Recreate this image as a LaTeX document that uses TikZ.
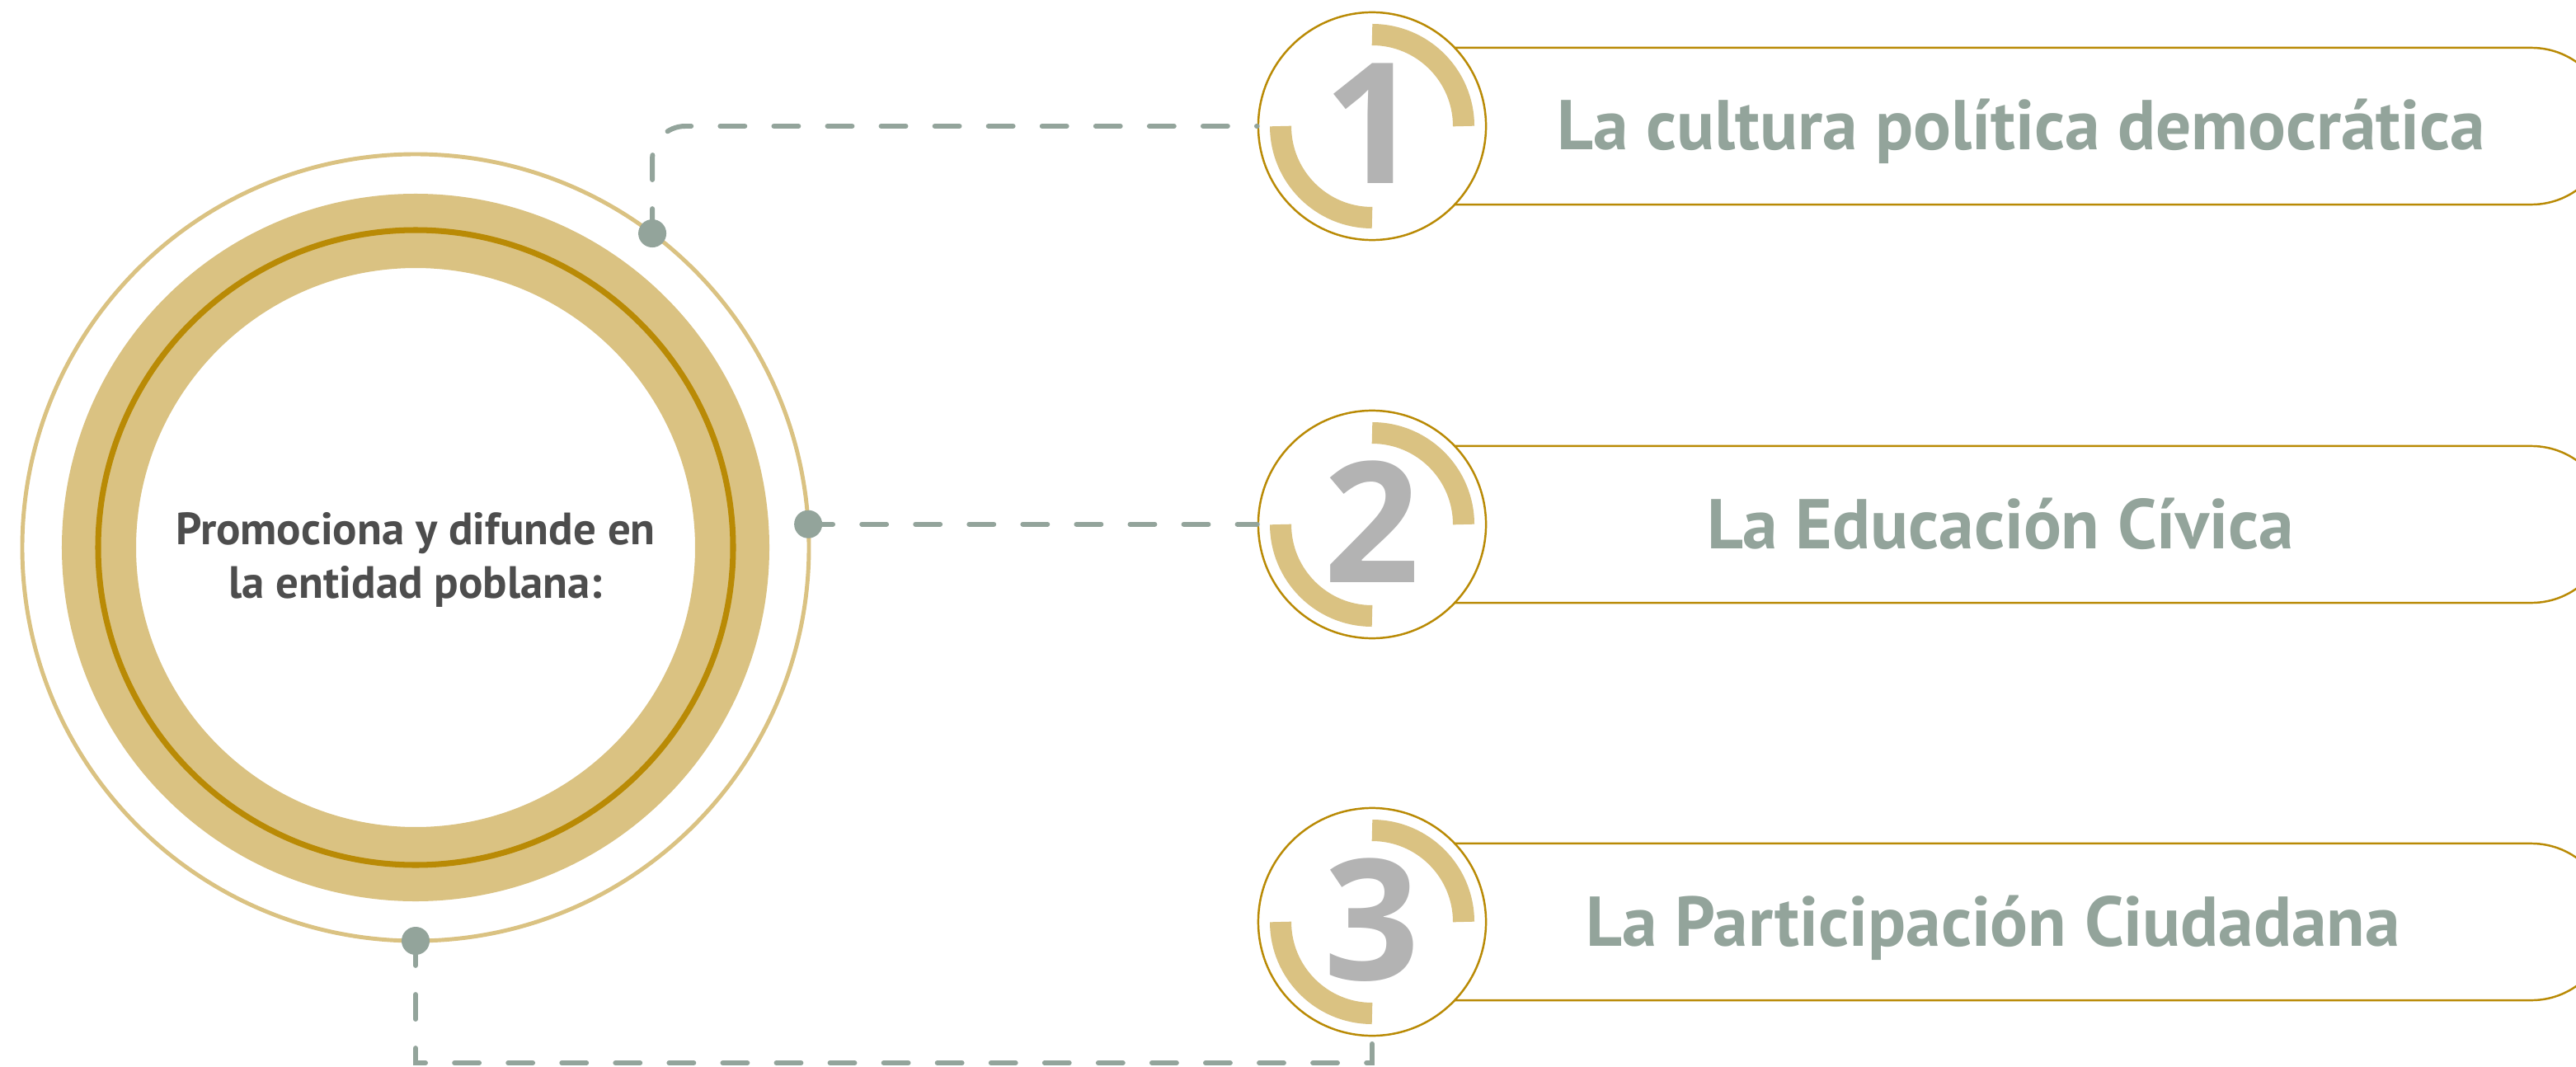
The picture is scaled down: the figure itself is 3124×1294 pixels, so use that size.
\documentclass[tikz,border=0pt]{standalone}
\usepackage{fontspec}
\setmainfont{PT Sans}
\newfontfamily\digitfont{Open Sans}
\usetikzlibrary{shapes.misc}

\definecolor{goldlight}{HTML}{DAC282}
\definecolor{golddark}{HTML}{B98A05}
\definecolor{sage}{HTML}{93A49B}
\definecolor{numgray}{HTML}{B3B3B3}
\definecolor{inkgray}{HTML}{4D4D4D}

\begin{document}
\begin{tikzpicture}[
        x=0.01cm, y=0.01cm,
        core/.style={circle, inner sep=0pt, minimum size=6.78cm},
        msg/.style={align=center, text=inkgray, font=\bfseries\fontsize{15.6}{18.5}\selectfont},
        numring/.style={circle, draw=golddark, line width=0.7pt, fill=white, inner sep=0pt, minimum size=2.76cm, text=numgray, font=\digitfont\bfseries\fontsize{58}{58}\selectfont},
        pill/.style={rounded rectangle, rounded rectangle left arc=none, draw=golddark, line width=0.7pt, fill=white, minimum width=14.25cm, minimum height=1.9cm, inner sep=0pt},
        title/.style={text=sage, anchor=base, font=\bfseries\fontsize{24.3}{24.3}\selectfont},
        dot/.style={circle, fill=sage, inner sep=0pt, minimum size=0.34cm},
        link/.style={draw=sage, line width=1.7pt, line cap=round, dash pattern=on 8.5pt off 10pt},
        goldarc/.style={draw=goldlight, line width=7.4pt}
    ]
    \useasboundingbox (0,0) rectangle (3124,-1294);
    \clip (0,0) rectangle (3124,-1294);
    \node[core] (core) at (504,-664) {};
    \node[msg] (msg) at (504,-679) {Promociona y difunde en\\la entidad poblana:};
    \draw[goldlight, line width=1.4pt] (core.center) circle[radius=477];
    \draw[goldlight, line width=25.6pt] (core.center) circle[radius=384];
    \draw[golddark, line width=2pt] (core.center) circle[radius=385];
    \path (core.center) ++(53:477) node[dot] (p1) {};
    \path (core.center) ++(3.4:477) node[dot] (p2) {};
    \path (core.center) ++(-90:477) node[dot] (p3) {};

    \foreach \i/\cy in {1/153, 2/636, 3/1118} {
        \node[pill] (b\i) at (2452,-\cy) {};
        \node[numring] (n\i) at (1664,-\cy) {\raisebox{0.07cm}{\i}};
        \draw[goldarc] (n\i.center) ++(0,111) arc[start angle=90, end angle=0, radius=111];
        \draw[goldarc] (n\i.center) ++(-111,0) arc[start angle=180, end angle=270, radius=111];
    }
    \foreach \i/\tx/\cy/\lab in {1/2451/153/La cultura política democrática,
                                 2/2426/636/La Educación Cívica,
                                 3/2417/1118/La Participación Ciudadana}
        \node[title] (t\i) at (\tx,-\cy-29) {\lab};

    \coordinate (low) at (1664,-1289);
    \draw[link, rounded corners=0.4cm] (p1.center) |- (n1.west);
    \draw[link] (p2.center) -- (p2.center -| n2.west);
    \draw[link] (p3.center) |- (low) -- (n3.south);
\end{tikzpicture}
\end{document}
